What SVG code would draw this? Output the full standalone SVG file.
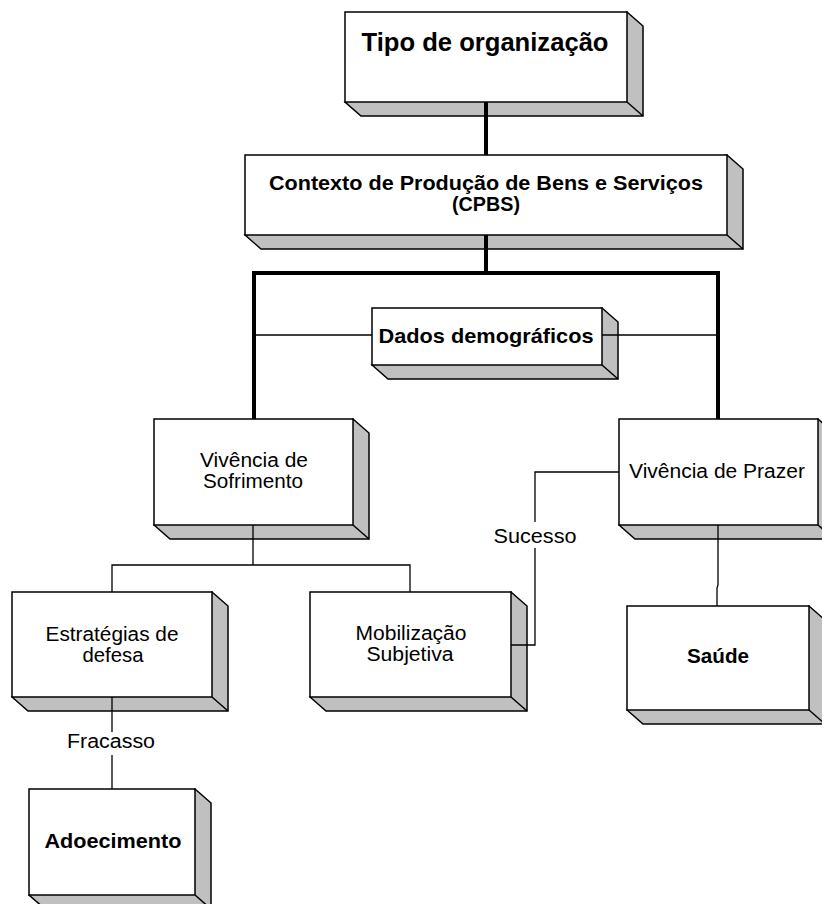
<svg xmlns="http://www.w3.org/2000/svg" width="822" height="904" viewBox="0 0 822 904">
<style>
.side{fill:#c0c0c0;stroke:#000;stroke-width:1.5;stroke-linejoin:miter}
.face{fill:#fff;stroke:#000;stroke-width:1.5}
.edge{stroke:#000;stroke-width:1.5;fill:none}
.thick{stroke:#000;stroke-width:4;fill:none}
.thin{stroke:#000;stroke-width:1.3;fill:none}
text{font-family:"Liberation Sans",Arial,sans-serif;fill:#000;text-anchor:middle}
.b{font-weight:bold;font-size:21px}
.r{font-size:20px}
</style>
<rect width="822" height="904" fill="#fff"/>
<g id="tipo">
<polygon class="side" points="627,12 643,26 643,116 361,116 345,102"/>
<rect class="face" x="345" y="12" width="282" height="90"/>
<line class="edge" x1="627" y1="102" x2="643" y2="116"/>
<text class="b" style="font-size:25px" x="485" y="51" textLength="247" lengthAdjust="spacingAndGlyphs">Tipo de organização</text>
</g>
<g id="cpbs">
<polygon class="side" points="727,155 743,169 743,249 261,249 245,235"/>
<rect class="face" x="245" y="155" width="482" height="80"/>
<line class="edge" x1="727" y1="235" x2="743" y2="249"/>
<text class="b"><tspan x="486" y="190" textLength="434" lengthAdjust="spacingAndGlyphs">Contexto de Produção de Bens e Serviços</tspan><tspan x="486" y="211" textLength="68" lengthAdjust="spacingAndGlyphs">(CPBS)</tspan></text>
</g>
<g id="dados">
<polygon class="side" points="602,308 618,322 618,379 388,379 372,365"/>
<rect class="face" x="372" y="308" width="230" height="57"/>
<line class="edge" x1="602" y1="365" x2="618" y2="379"/>
<text class="b" x="486" y="343" textLength="215" lengthAdjust="spacingAndGlyphs">Dados demográficos</text>
</g>
<g id="sofrimento">
<polygon class="side" points="353,419 369,433 369,539 170,539 154,525"/>
<rect class="face" x="154" y="419" width="199" height="106"/>
<line class="edge" x1="353" y1="525" x2="369" y2="539"/>
<text class="r"><tspan x="254" y="467" textLength="108" lengthAdjust="spacingAndGlyphs">Vivência de</tspan><tspan x="253" y="488" textLength="100" lengthAdjust="spacingAndGlyphs">Sofrimento</tspan></text>
</g>
<g id="prazer">
<polygon class="side" points="818,419 834,433 834,539 635,539 619,525"/>
<rect class="face" x="619" y="419" width="199" height="106"/>
<line class="edge" x1="818" y1="525" x2="834" y2="539"/>
<text class="r" x="717" y="478" textLength="176" lengthAdjust="spacingAndGlyphs">Vivência de Prazer</text>
</g>
<g id="estrategias">
<polygon class="side" points="212,592 228,606 228,711 28,711 12,697"/>
<rect class="face" x="12" y="592" width="200" height="105"/>
<line class="edge" x1="212" y1="697" x2="228" y2="711"/>
<text class="r"><tspan x="112" y="641" textLength="133" lengthAdjust="spacingAndGlyphs">Estratégias de</tspan><tspan x="113" y="662" textLength="61" lengthAdjust="spacingAndGlyphs">defesa</tspan></text>
</g>
<g id="mobilizacao">
<polygon class="side" points="511,592 527,606 527,711 326,711 310,697"/>
<rect class="face" x="310" y="592" width="201" height="105"/>
<line class="edge" x1="511" y1="697" x2="527" y2="711"/>
<text class="r"><tspan x="411" y="640" textLength="111" lengthAdjust="spacingAndGlyphs">Mobilização</tspan><tspan x="410" y="661" textLength="87" lengthAdjust="spacingAndGlyphs">Subjetiva</tspan></text>
</g>
<g id="saude">
<polygon class="side" points="809,606 825,620 825,724 643,724 627,710"/>
<rect class="face" x="627" y="606" width="182" height="104"/>
<line class="edge" x1="809" y1="710" x2="825" y2="724"/>
<text class="b" x="718" y="663" textLength="62" lengthAdjust="spacingAndGlyphs">Saúde</text>
</g>
<g id="adoecimento">
<polygon class="side" points="195,789 211,803 211,909 45,909 29,895"/>
<rect class="face" x="29" y="789" width="166" height="106"/>
<line class="edge" x1="195" y1="895" x2="211" y2="909"/>
<text class="b" x="113" y="848" textLength="137" lengthAdjust="spacingAndGlyphs">Adoecimento</text>
</g>
<g id="connectors">
<line class="thick" x1="486" y1="102" x2="486" y2="155"/>
<line class="thick" x1="486" y1="235" x2="486" y2="273"/>
<path class="thick" d="M254 419 V273 H718 V419"/>
<line class="thin" x1="254" y1="335" x2="372" y2="335"/>
<line class="thin" x1="602" y1="335" x2="718" y2="335"/>
<path class="thin" d="M253 525 V565 M112 592 V565 H410 V592"/>
<path class="thin" d="M619 472 H535 V522 M535 548 V645 H511"/>
<text class="r" x="535" y="543" textLength="83" lengthAdjust="spacingAndGlyphs">Sucesso</text>
<path class="thin" d="M718 525 V585 L717 588 V606"/>
<path class="thin" d="M112 697 V732 M112 755 V789"/>
<text class="r" x="111" y="748" textLength="88" lengthAdjust="spacingAndGlyphs">Fracasso</text>
</g>
</svg>
